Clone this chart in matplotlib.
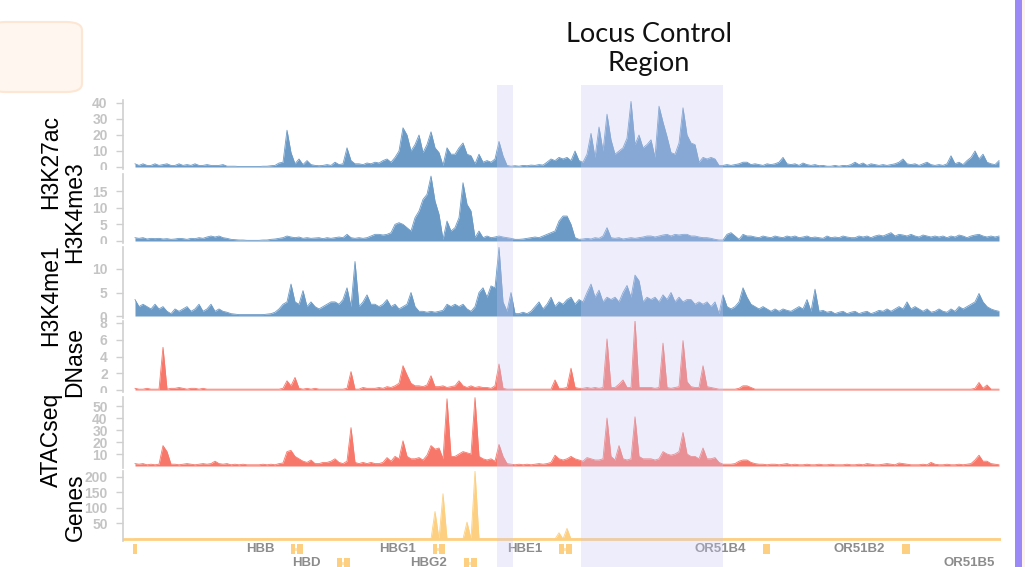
import numpy as np
import matplotlib
matplotlib.use("Agg")
import matplotlib.pyplot as plt
from matplotlib.patches import FancyBboxPatch, Rectangle
from matplotlib.transforms import Bbox, TransformedBbox

# signal tracks, one value per 4px genomic bin (217 bins across the locus)
h3k27ac = [
    2, 1, 2, 1, 1, 2, 1, 1.5, 2, 1,
    1, 2, 1, 1.5, 1, 2, 1, 1, 1.5, 1,
    1, 1, 1.5, 0.5, 0.5, 0.5, 0.3, 0.3, 0.3, 0.3,
    0.3, 0.3, 0.5, 0.5, 0.8, 1, 2.5, 3, 23, 9,
    2, 5, 1.5, 4, 1.5, 1, 0.8, 1, 1.5, 1,
    3, 1.5, 2, 12, 4, 2, 2, 1.5, 2.5, 2,
    3, 2.5, 4, 5, 3, 6, 10, 24.5, 20, 10,
    14, 20, 9, 14, 22, 12, 9, 1, 12, 8,
    8, 12, 15, 8, 7, 2, 8, 3, 4, 3,
    5, 16, 7, 1, 0.5, 0.8, 0.5, 1, 0.8, 1.2,
    1, 1.5, 1.2, 3, 5, 4, 6, 5, 6, 4,
    10, 4, 3, 8, 21, 6, 25, 10, 33, 17,
    8, 10, 12, 18, 41, 14, 20, 12, 14, 17,
    6, 38, 28, 19, 9, 8, 15, 37, 20, 15,
    14, 3, 6, 5, 6, 5, 1, 1, 1.5, 1,
    1.5, 2, 3, 3, 1.5, 2, 1.5, 1, 2, 1.5,
    2, 3, 6, 2, 1.5, 2, 1, 2.5, 1.5, 1,
    1.5, 0.8, 1, 0.5, 0.5, 1, 0.5, 1, 0.8, 1.5,
    3, 1.5, 2.5, 1, 2, 1.5, 1, 1.5, 1, 1.5,
    2, 3, 5, 2, 1.5, 2, 1, 2, 3, 1.5,
    1, 1.5, 1, 2, 7, 2, 3, 1.5, 4, 6,
    10, 5, 8, 3, 2, 1.5, 4,
]
h3k4me3 = [
    1, 0.8, 1, 0.6, 0.8, 0.7, 0.8, 0.6, 0.7, 0.5,
    0.6, 0.8, 0.7, 0.5, 0.8, 0.7, 1, 0.8, 1.2, 1.5,
    1.2, 1.5, 1, 0.8, 0.5, 0.4, 0.3, 0.3, 0.2, 0.2,
    0.2, 0.2, 0.3, 0.3, 0.5, 0.6, 0.8, 1, 1.5, 1.2,
    1, 1.2, 0.8, 1, 0.8, 0.9, 1, 0.7, 1, 0.8,
    1, 1.2, 1, 2, 1, 0.8, 1, 0.8, 1, 1.5,
    2, 2, 1.8, 2, 2.5, 5, 5.5, 5, 4, 3,
    7, 9, 12.5, 14, 19.5, 12, 8, 0.5, 6, 3,
    4, 7, 17.5, 11, 9, 1, 3, 1, 1.5, 1,
    1.2, 1.5, 1.2, 1, 0.8, 0.5, 0.5, 0.6, 0.8, 1,
    1.2, 1, 1.5, 2, 2.5, 3, 6, 7.5, 7.5, 5,
    1, 0.5, 0.6, 0.8, 0.6, 1, 0.8, 1.5, 4, 1,
    0.8, 1, 0.6, 0.8, 1, 0.8, 1, 1.2, 1.5, 1.5,
    1.2, 1.5, 1.8, 2, 1.5, 2, 1.8, 2, 2, 1.5,
    1.5, 1.2, 1, 1, 0.8, 0.5, 0.3, 0.3, 2, 2.5,
    1.5, 0.5, 2, 1.5, 1.5, 1.2, 1, 1.5, 1.2, 1,
    1.5, 1.2, 1, 1.5, 1.2, 1.5, 1, 1.2, 1.5, 1,
    1.2, 1, 0.8, 1.5, 1, 1.2, 1, 1.5, 1.2, 1,
    1, 1.5, 1.2, 1.5, 1, 1.5, 1.8, 1.5, 2, 2.5,
    1.5, 2, 1.8, 1.5, 2, 1.5, 1.2, 1.8, 1.5, 1.2,
    1.5, 1.2, 1.5, 1, 1.5, 1.2, 1.8, 1.5, 1, 1.5,
    1.8, 2, 1.5, 1.2, 1.5, 1.2, 1.5,
]
h3k4me1 = [
    3.5, 2, 2.5, 2, 1.5, 2.5, 1.5, 2, 1, 0.5,
    1.5, 1, 1.5, 2, 1, 1.5, 2.5, 1, 1.5, 2.5,
    1, 1.5, 1, 0.8, 0.5, 0.4, 0.3, 0.3, 0.3, 0.3,
    0.3, 0.3, 0.3, 0.4, 0.5, 0.8, 1.5, 2.5, 3, 6.8,
    3, 2.5, 5.4, 2, 3, 2, 1.5, 2, 2.5, 3,
    3, 2.5, 3.5, 6, 2, 11.6, 2, 3, 4.5, 2.5,
    2.5, 2, 2.5, 3.5, 2, 2.5, 1.5, 2, 2.5, 5,
    2, 1, 1, 0.8, 1, 0.8, 1, 1.2, 2.5, 2,
    2.5, 2, 2.5, 1.5, 1, 2, 5, 6, 4, 6.4,
    6, 14.6, 3, 1, 5, 0.5, 0.5, 0.8, 0.5, 1,
    2, 3, 1.5, 2.5, 4, 2, 3, 2.5, 3.5, 4,
    2.5, 3.5, 3, 5, 6.8, 4, 5.5, 3, 4, 3.5,
    4, 3, 5, 6.5, 4, 8.7, 7.5, 3, 4, 3.5,
    4, 3, 4.5, 3.5, 5, 3, 4, 3, 3.5, 3.5,
    2.5, 3, 2.5, 3, 2, 3, 0.5, 4.5, 2, 1.5,
    2, 3, 6, 4, 2.5, 2, 1.5, 2, 1.5, 1,
    1.5, 1, 1.5, 1.2, 1, 1.5, 2, 1.5, 3.5, 1,
    5.7, 1, 1.2, 0.8, 1, 0.5, 0.8, 1, 0.5, 0.8,
    1, 0.5, 0.8, 1, 0.5, 0.8, 1.2, 1, 1.5, 1,
    1.5, 2, 1.5, 3, 1.5, 2, 1.5, 1, 1.5, 0.8,
    1, 1.5, 1, 0.8, 1.5, 1, 2, 1.5, 2, 2.5,
    3, 4.8, 3, 2, 1.5, 1.2, 1,
]
dnase = [
    0.2, 0.1, 0.1, 0.2, 0.1, 0.1, 0.1, 5.1, 0.1, 0.2,
    0.2, 0.3, 0.2, 0.1, 0.2, 0.2, 0.1, 0.2, 0.1, 0.1,
    0.1, 0.1, 0.1, 0.1, 0.1, 0.1, 0.1, 0.1, 0.1, 0.1,
    0.1, 0.1, 0.1, 0.1, 0.1, 0.1, 0.1, 0.2, 1.1, 0.5,
    1.5, 0.2, 0.1, 0.2, 0.1, 0.2, 0.1, 0.1, 0.1, 0.1,
    0.1, 0.1, 0.1, 0.2, 2.2, 0.1, 0.1, 0.3, 0.2, 0.2,
    0.2, 0.3, 0.2, 0.4, 0.3, 0.5, 0.8, 2.9, 1.8, 0.8,
    0.5, 0.5, 0.4, 0.6, 1.7, 0.4, 0.4, 0.5, 0.3, 0.4,
    0.5, 1.1, 0.5, 0.3, 0.5, 0.3, 0.4, 0.3, 0.3, 0.2,
    0.5, 3.1, 0.2, 0.1, 0.1, 0.1, 0.1, 0.1, 0.1, 0.1,
    0.1, 0.1, 0.1, 0.1, 0.1, 1.2, 0.2, 0.2, 0.3, 2.6,
    0.3, 0.2, 0.2, 0.3, 0.2, 0.3, 0.2, 0.3, 6.1, 0.3,
    0.3, 0.7, 1.2, 0.3, 0.3, 8.3, 0.3, 0.3, 0.3, 0.3,
    0.2, 0.3, 5.6, 0.3, 0.2, 0.3, 0.4, 5.9, 1, 0.4,
    0.3, 0.3, 2.9, 0.4, 0.3, 0.2, 0.1, 0.1, 0.1, 0.1,
    0.1, 0.2, 0.5, 0.5, 0.3, 0.1, 0.1, 0.1, 0.1, 0.1,
    0.1, 0.1, 0.1, 0.1, 0.1, 0.1, 0.1, 0.1, 0.1, 0.1,
    0.1, 0.1, 0.1, 0.1, 0.1, 0.1, 0.1, 0.1, 0.1, 0.1,
    0.1, 0.1, 0.1, 0.1, 0.1, 0.1, 0.1, 0.1, 0.1, 0.1,
    0.1, 0.1, 0.1, 0.1, 0.1, 0.1, 0.1, 0.1, 0.1, 0.1,
    0.1, 0.1, 0.1, 0.1, 0.1, 0.1, 0.1, 0.1, 0.1, 0.1,
    0.2, 0.9, 0.2, 0.6, 0.1, 0.1, 0.1,
]
atacseq = [
    2, 1.5, 2, 1, 1.5, 1, 1.5, 17, 12, 1.5,
    1.5, 1, 1.5, 2, 1.5, 1, 1.5, 2, 1.5, 2,
    4, 2, 1.5, 2, 1, 1.5, 1, 1.5, 1, 1,
    1, 1, 1.5, 1, 1.5, 1, 2, 2.5, 12, 13,
    8, 6, 4, 3, 5, 2, 2, 3, 3, 4,
    6, 3, 2, 4, 32, 3, 2, 3, 2, 3,
    2, 2, 3, 7, 4, 8, 6, 21, 8, 6,
    6, 7, 5, 9, 17, 14, 15, 6, 56, 8,
    8, 10, 12, 11, 10, 57, 8, 6, 5, 6,
    4, 18, 8, 2, 1.5, 1, 1.5, 1, 1.5, 1,
    1.5, 2, 1.5, 2, 3, 9, 6, 5, 6, 8,
    6, 5, 4, 7, 6, 5, 5, 6, 40, 8,
    5, 17, 6, 5, 6, 41, 8, 6, 6, 6,
    5, 6, 12, 10, 9, 10, 12, 28, 10, 8,
    8, 6, 15, 6, 6, 7, 3, 1.5, 1.5, 1.5,
    2, 4, 5, 5, 3, 2, 1.5, 1.5, 1, 1.5,
    1.5, 1, 1.5, 2, 1, 1.5, 1, 1, 1.5, 1,
    1, 1.5, 1, 1, 1.5, 1, 1, 1, 1.5, 1,
    1, 1.5, 1, 2, 1.5, 1, 1, 1.5, 2, 1.5,
    1, 2.5, 2, 1.5, 1, 1, 1, 1.5, 1, 3,
    1.5, 1, 1, 1.5, 1, 1, 1.5, 1, 1.5, 2,
    5, 9, 4, 4, 2, 1.5, 1,
]
# gene-density track: non-zero bins only
gene_sig_bin = [75, 77, 83, 85, 106, 108]
gene_sig_val = [88, 145, 54, 217, 20, 34]

# gene annotations (bin units)
gene_names = ["", "HBB", "HBD", "HBG1", "HBG2", "HBE1", "OR51B4", "OR51B2", "OR51B5"]
gene_start = [-0.5, 39, 50.5, 74.5, 82.25, 106, 157, 191.75, 219.25]
gene_end = [0.5, 42, 53.75, 77.5, 85.5, 109.25, 158.75, 193.75, 221]
gene_row = [0, 0, 1, 0, 1, 0, 0, 0, 1]

# highlighted regions (bin units)
hl_start = [90.5, 111.5]
hl_end = [94.5, 147]

W, H = 1025, 567
BLUE = "#6b9ac6"
SALMON = "#f7786a"
YELLOW = "#fdd081"
GRAY_AX = "#cfcfcf"

n = len(h3k27ac)
x = np.arange(n)
genes = np.zeros(n)
genes[gene_sig_bin] = gene_sig_val

fig = plt.figure(figsize=(W / 100, H / 100), dpi=100)
fig.patch.set_facecolor("white")

XL, XR = 123, 1001
xlim = (-3, n - 0.5)


def px_axes(left, top, right, bottom):
    return fig.add_axes([left / W, 1 - bottom / H, (right - left) / W, (bottom - top) / H])


# (label, data, color, zero px, px per unit, top px, ticks, label x, label y)
tracks = [
    ("H3K27ac", h3k27ac, BLUE, 167, 1.6, 100, [0, 10, 20, 30, 40], 51, 162),
    ("H3K4me3", h3k4me3, BLUE, 241, 3.33, 174, [0, 5, 10, 15], 75, 212),
    ("H3K4me1", h3k4me1, BLUE, 316, 4.7, 247, [0, 5, 10], 51, 295),
    ("DNase", dnase, SALMON, 390, 8.375, 321, [0, 2, 4, 6, 8], 75, 362),
    ("ATACseq", atacseq, SALMON, 466, 1.2, 397, [10, 20, 30, 40, 50], 51, 440),
    ("Genes", genes, YELLOW, 539, 0.3125, 471, [50, 100, 150, 200], 75, 507),
]

for name, vals, col, z, s, top, ticks, lx, ly in tracks:
    ax = px_axes(XL, top, XR, z + 2)
    vals = np.asarray(vals, dtype=float)
    ax.fill_between(x, 0, vals, color=col, lw=0)
    ax.plot(x, vals, color=col, lw=0.6)
    if name == "Genes":
        ax.axhline(0, color=YELLOW, lw=2)
    ax.set_xlim(*xlim)
    ax.set_ylim(-2 / s, (z - top) / s)
    ax.patch.set_alpha(0)
    for sp in ["top", "right", "bottom"]:
        ax.spines[sp].set_visible(False)
    ax.spines["left"].set_color(GRAY_AX)
    ax.spines["left"].set_linewidth(1.2)
    ax.set_xticks([])
    ax.set_yticks(ticks)
    ax.tick_params(axis="y", length=5, width=1, color=GRAY_AX, pad=6,
                   labelsize=10, labelcolor="#c4c4c4")
    # tick labels are cut at the track boundaries
    band = TransformedBbox(Bbox([[0, 1 - (z + 3) / H], [XL / W, 1 - (top - 4) / H]]),
                           fig.transFigure)
    for t in ax.get_yticklabels():
        t.set_fontweight("bold")
        t.set_family("Liberation Sans")
        t.set_clip_on(True)
        t.set_clip_box(band)
    fig.text(lx / W, 1 - ly / H, name, rotation=90, ha="center", va="center",
             fontsize=16.5, family="Liberation Sans", color="black")

# gene annotation rows
ann = px_axes(XL, 540, XR, H)
ann.set_xlim(*xlim)
ann.set_ylim(H, 540)
ann.axis("off")
row_y = [549, 563]
for nm, s0, s1, r in zip(gene_names, gene_start, gene_end, gene_row):
    yc = row_y[r]
    w = s1 - s0
    if w < 2.5:
        ann.add_patch(Rectangle((s0, yc - 5), w, 10, color=YELLOW, lw=0))
    else:
        ann.add_patch(Rectangle((s0, yc - 1.5), w, 3, color=YELLOW, lw=0, alpha=0.6))
        ann.add_patch(Rectangle((s0, yc - 5), w * 0.35, 10, color=YELLOW, lw=0))
        ann.add_patch(Rectangle((s1 - w * 0.5, yc - 5), w * 0.5, 10, color=YELLOW, lw=0))
    if nm:
        ann.text(s0 - 4.2, yc, nm, ha="right", va="center", fontsize=9.5,
                 fontweight="bold", color="#8c8c8c", family="Liberation Sans")

# highlight overlay on top of all tracks
ov = px_axes(XL, 85, XR, H)
ov.set_xlim(*xlim)
ov.set_ylim(0, 1)
ov.axis("off")
for a, b in zip(hl_start, hl_end):
    ov.axvspan(a, b, color="#c8c8f5", alpha=0.31, lw=0)

fig.text(649 / W, 1 - 49 / H, "Locus Control\nRegion", ha="center", va="center",
         fontsize=19.5, family="Lato", linespacing=1.2, color="#111111")

# top-left card and right edge bar
fig.patches.append(FancyBboxPatch((-10 / W, 1 - 92 / H), 92 / W, 70 / H,
                                  boxstyle="round,pad=0,rounding_size=0.015",
                                  transform=fig.transFigure, facecolor="#fff6ef",
                                  edgecolor="#fde7d4", lw=1.5))
fig.patches.append(Rectangle((1015 / W, 0), 7 / W, 1, transform=fig.transFigure,
                             facecolor="#9b89f8", lw=0))
fig.patches.append(Rectangle((1022 / W, 0), 3 / W, 1, transform=fig.transFigure,
                             facecolor="#fdf3ec", lw=0))

fig.savefig("out.png", dpi=100)
